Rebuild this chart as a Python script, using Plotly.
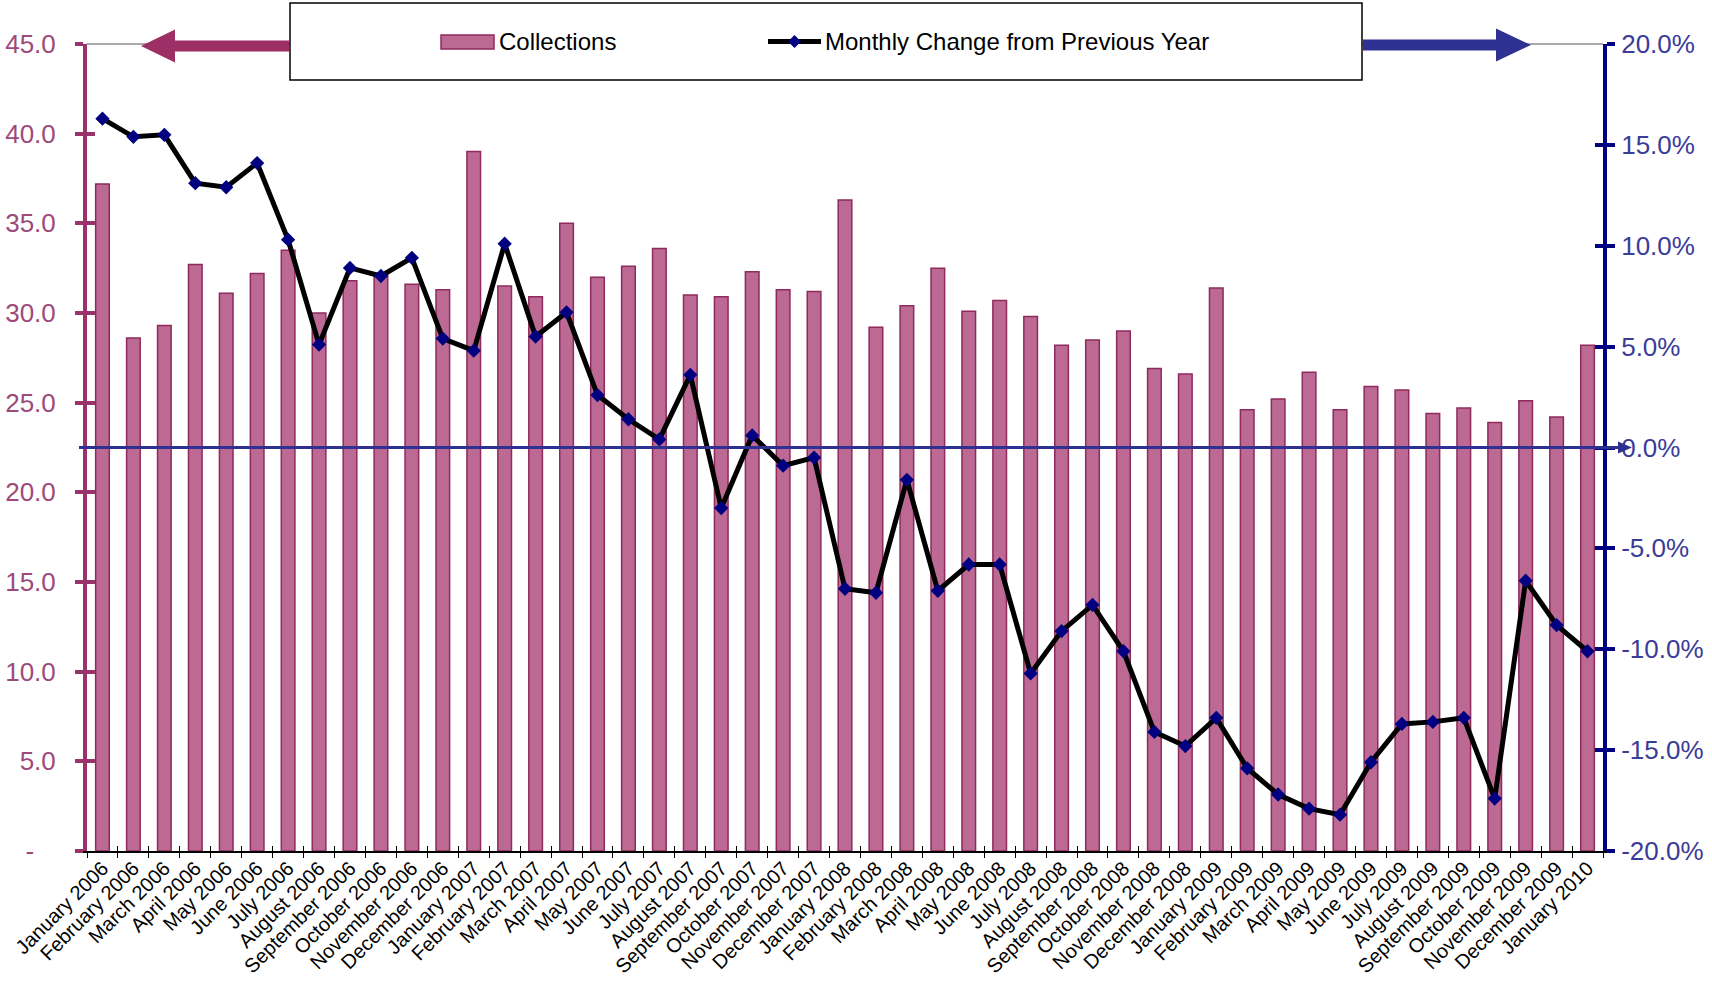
import plotly.graph_objects as go

# ---------------- data ----------------
months = [
    "January 2006", "February 2006", "March 2006", "April 2006", "May 2006", "June 2006",
    "July 2006", "August 2006", "September 2006", "October 2006", "November 2006", "December 2006",
    "January 2007", "February 2007", "March 2007", "April 2007", "May 2007", "June 2007",
    "July 2007", "August 2007", "September 2007", "October 2007", "November 2007", "December 2007",
    "January 2008", "February 2008", "March 2008", "April 2008", "May 2008", "June 2008",
    "July 2008", "August 2008", "September 2008", "October 2008", "November 2008", "December 2008",
    "January 2009", "February 2009", "March 2009", "April 2009", "May 2009", "June 2009",
    "July 2009", "August 2009", "September 2009", "October 2009", "November 2009", "December 2009",
    "January 2010",
]

collections = [
    37.2, 28.6, 29.3, 32.7, 31.1, 32.2, 33.5, 30.0, 31.8, 32.2, 31.6, 31.3,
    39.0, 31.5, 30.9, 35.0, 32.0, 32.6, 33.6, 31.0, 30.9, 32.3, 31.3, 31.2,
    36.3, 29.2, 30.4, 32.5, 30.1, 30.7, 29.8, 28.2, 28.5, 29.0, 26.9, 26.6,
    31.4, 24.6, 25.2, 26.7, 24.6, 25.9, 25.7, 24.4, 24.7, 23.9, 25.1, 24.2,
    28.2,
]

monthly_change_pct = [
    16.3, 15.4, 15.5, 13.1, 12.9, 14.1, 10.3, 5.1, 8.9, 8.5, 9.4, 5.4,
    4.8, 10.1, 5.5, 6.7, 2.6, 1.4, 0.4, 3.6, -3.0, 0.6, -0.9, -0.5,
    -7.0, -7.2, -1.6, -7.1, -5.8, -5.8, -11.2, -9.1, -7.8, -10.1, -14.1, -14.8,
    -13.4, -15.9, -17.2, -17.9, -18.2, -15.6, -13.7, -13.6, -13.4, -17.4, -6.6, -8.8,
    -10.1,
]

left_tickvals = [0, 5, 10, 15, 20, 25, 30, 35, 40, 45]
left_ticktext = ["-\u00a0\u00a0\u00a0", "5.0", "10.0", "15.0", "20.0", "25.0", "30.0", "35.0", "40.0", "45.0"]
right_tickvals = [-20, -15, -10, -5, 0, 5, 10, 15, 20]
right_ticktext = ["-20.0%", "-15.0%", "-10.0%", "-5.0%", "0.0%", "5.0%", "10.0%", "15.0%", "20.0%"]

legend_names = ["Collections", "Monthly Change from Previous Year"]

# ---------------- styling ----------------
W_FIG, H_FIG = 1712, 1001
L, R_EDGE, T, B_EDGE = 87, 1603, 44, 851
PW, PH = R_EDGE - L, B_EDGE - T

FONT = "Liberation Sans, Arial, Helvetica, sans-serif"
BAR_FILL = "#BC6A94"
BAR_LINE = "#8E2A5C"
LEFT_AXIS = "#99336A"
LEFT_LABEL = "#9C4A7A"
RIGHT_AXIS = "#000080"
RIGHT_LABEL = "#3B3B98"
ZERO_LINE = "#2E3192"
ARROW_LEFT = "#9E2F66"
ARROW_RIGHT = "#2E3192"


def px(xp):
    return (xp - L) / PW


def py(yp):
    return (B_EDGE - yp) / PH


fig = go.Figure()

fig.add_trace(go.Bar(
    x=months, y=collections, name=legend_names[0],
    marker=dict(color=BAR_FILL, line=dict(color=BAR_LINE, width=1.5)),
    xaxis="x", yaxis="y", showlegend=False,
))

# dummy traces so that overlay axes (for crossing tick marks) are drawn
fig.add_trace(go.Scatter(x=[None], y=[None], xaxis="x2", yaxis="y", mode="lines",
                         showlegend=False, hoverinfo="skip"))
fig.add_trace(go.Scatter(x=[None], y=[None], xaxis="x", yaxis="y3", mode="lines",
                         showlegend=False, hoverinfo="skip"))
fig.add_trace(go.Scatter(x=[None], y=[None], xaxis="x", yaxis="y4", mode="lines",
                         showlegend=False, hoverinfo="skip"))

fig.add_trace(go.Scatter(
    x=months, y=monthly_change_pct, name=legend_names[1],
    mode="lines+markers",
    line=dict(color="black", width=5),
    marker=dict(symbol="diamond", size=11, color=RIGHT_AXIS),
    xaxis="x", yaxis="y2", showlegend=False,
))

n = len(months)
xrange = [-0.5, n - 0.5]

fig.update_layout(
    width=W_FIG, height=H_FIG, autosize=False,
    margin=dict(l=L, r=W_FIG - R_EDGE, t=T, b=H_FIG - B_EDGE, pad=0, autoexpand=False),
    paper_bgcolor="white", plot_bgcolor="white",
    font=dict(family=FONT, color="black"),
    bargap=0.56,
    xaxis=dict(
        type="category", range=xrange, tickson="boundaries", automargin=False,
        ticks="outside", ticklen=5, tickwidth=1, tickcolor="black",
        showline=True, linecolor="black", linewidth=1.5,
        showgrid=False, zeroline=False,
        tickangle=-45, tickfont=dict(size=20, color="black", family=FONT),
        ticklabelstandoff=-4,
    ),
    xaxis2=dict(
        overlaying="x", anchor="y", side="bottom", range=xrange, automargin=False,
        tick0=-0.5, dtick=1, ticks="inside", ticklen=5, tickwidth=1, tickcolor="black",
        showticklabels=False, showline=False, showgrid=False, zeroline=False,
    ),
    yaxis=dict(
        range=[0, 45], tickvals=left_tickvals, ticktext=left_ticktext, automargin=False,
        ticks="outside", ticklen=8, tickwidth=4, tickcolor=LEFT_AXIS,
        showline=True, linecolor=LEFT_AXIS, linewidth=4,
        showgrid=False, zeroline=False,
        tickfont=dict(size=26, color=LEFT_LABEL, family=FONT),
        ticklabelstandoff=14,
    ),
    yaxis3=dict(
        overlaying="y", side="left", range=[0, 45], tickvals=left_tickvals, automargin=False,
        ticks="inside", ticklen=8, tickwidth=4, tickcolor=LEFT_AXIS,
        showticklabels=False, showline=False, showgrid=False, zeroline=False,
    ),
    yaxis2=dict(
        overlaying="y", side="right", range=[-20, 20], automargin=False,
        tickvals=right_tickvals, ticktext=right_ticktext,
        ticks="outside", ticklen=8, tickwidth=4, tickcolor=RIGHT_AXIS,
        showline=True, linecolor=RIGHT_AXIS, linewidth=4,
        showgrid=False, zeroline=False,
        tickfont=dict(size=26, color=RIGHT_LABEL, family=FONT),
        ticklabelstandoff=1,
    ),
    yaxis4=dict(
        overlaying="y", side="right", range=[-20, 20], tickvals=right_tickvals, automargin=False,
        ticks="inside", ticklen=8, tickwidth=4, tickcolor=RIGHT_AXIS,
        showticklabels=False, showline=False, showgrid=False, zeroline=False,
    ),
    showlegend=False,
)

shapes = []
# top border (grey) of the plot area
shapes.append(dict(type="line", xref="paper", yref="paper", x0=0, x1=1, y0=1, y1=1,
                   line=dict(color="#8C8C8C", width=1.5)))
# zero reference line extending past right axis with small arrowhead
shapes.append(dict(type="line", xref="paper", yref="y2", x0=px(79), x1=px(1622), y0=0, y1=0,
                   line=dict(color=ZERO_LINE, width=3)))
zh = 6 / (PH / 40.0)
shapes.append(dict(type="path", xref="paper", yref="y2",
                   path=f"M {px(1632)},0 L {px(1618)},{zh} L {px(1618)},{-zh} Z",
                   fillcolor=ZERO_LINE, line=dict(width=0)))
# legend box
shapes.append(dict(type="rect", xref="paper", yref="paper",
                   x0=px(290), x1=px(1362), y0=py(80), y1=py(3),
                   fillcolor="white", line=dict(color="black", width=1.5)))


def arrow_path(tip, base, tail, cy, head_half, shaft_half):
    pts = [(tip, cy), (base, cy - head_half), (base, cy - shaft_half), (tail, cy - shaft_half),
           (tail, cy + shaft_half), (base, cy + shaft_half), (base, cy + head_half)]
    return "M " + " L ".join(f"{px(a)},{py(b)}" for a, b in pts) + " Z"


shapes.append(dict(type="path", xref="paper", yref="paper",
                   path=arrow_path(141, 175, 289, 46, 16.5, 5.5),
                   fillcolor=ARROW_LEFT, line=dict(width=0)))
shapes.append(dict(type="path", xref="paper", yref="paper",
                   path=arrow_path(1531, 1496, 1363, 45, 16.5, 5.5),
                   fillcolor=ARROW_RIGHT, line=dict(width=0)))

# legend symbols
shapes.append(dict(type="rect", xref="paper", yref="paper",
                   x0=px(441), x1=px(494), y0=py(49), y1=py(35),
                   fillcolor=BAR_FILL, line=dict(color=BAR_LINE, width=1.5)))
shapes.append(dict(type="line", xref="paper", yref="paper",
                   x0=px(768), x1=px(821), y0=py(41.5), y1=py(41.5),
                   line=dict(color="black", width=5)))
dm = 6.5
shapes.append(dict(type="path", xref="paper", yref="paper",
                   path=(f"M {px(794.5)},{py(41.5 - dm)} L {px(794.5 + dm)},{py(41.5)} "
                         f"L {px(794.5)},{py(41.5 + dm)} L {px(794.5 - dm)},{py(41.5)} Z"),
                   fillcolor=RIGHT_AXIS, line=dict(width=0)))

fig.update_layout(shapes=shapes)

fig.add_annotation(xref="paper", yref="paper", x=px(497), y=py(41), xanchor="left", yanchor="middle",
                   text=legend_names[0], showarrow=False,
                   font=dict(size=24, color="black", family=FONT))
fig.add_annotation(xref="paper", yref="paper", x=px(823), y=py(41), xanchor="left", yanchor="middle",
                   text=legend_names[1], showarrow=False,
                   font=dict(size=24, color="black", family=FONT))

fig.write_html(
    "out.html",
    config={"displayModeBar": False},
    post_script="document.body.style.margin='0';document.body.style.overflow='hidden';",
)
